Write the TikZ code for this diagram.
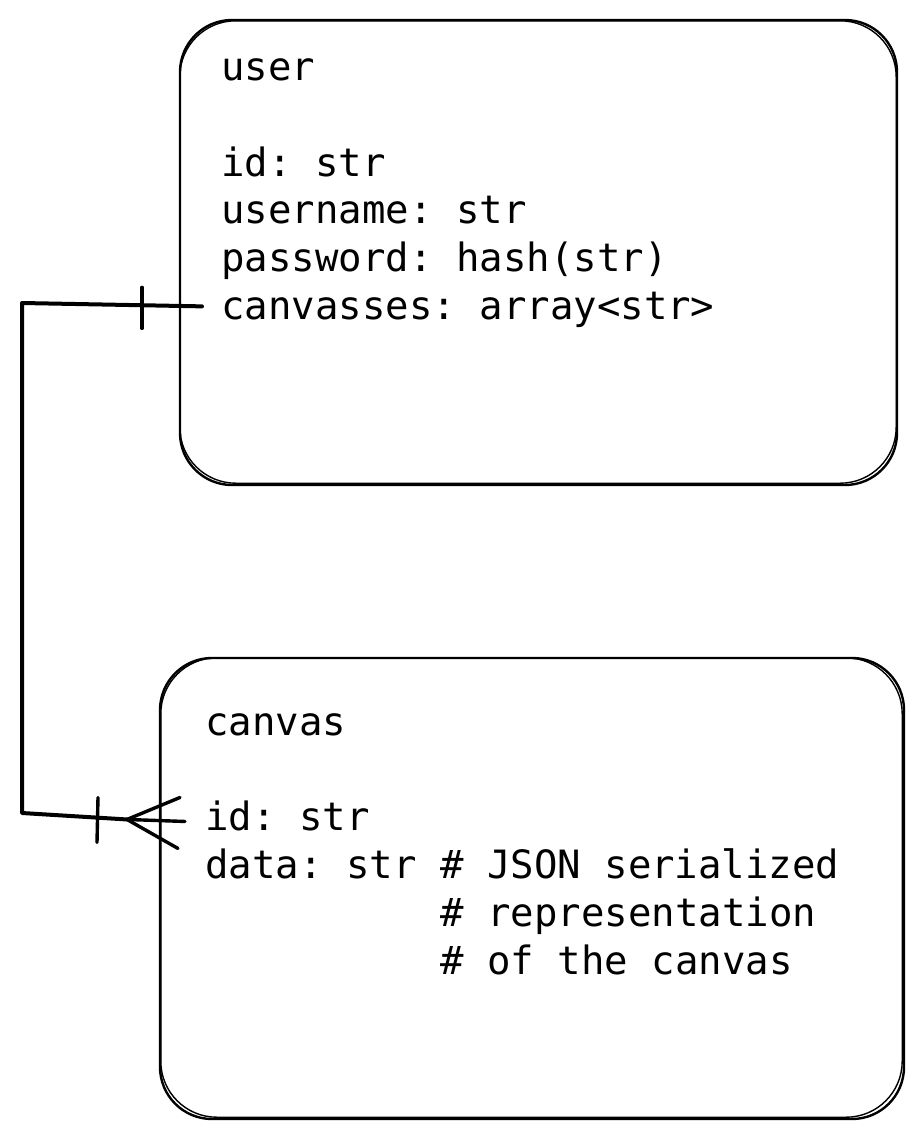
\documentclass[tikz,border=0pt]{standalone}
\usepackage{fontspec}
\setmonofont{DejaVu Sans Mono}
\usetikzlibrary{calc,fit}
\tikzset{
  tablebox/.style={draw, line width=1.2pt, rounded corners=26pt, inner sep=0pt},
  sketch/.style={line width=0.7pt, rounded corners=28pt},
  field/.style={anchor=base west, inner sep=0pt, font=\ttfamily\fontsize{19.5}{23.4}\selectfont},
  link/.style={line width=2pt, line cap=round, line join=round},
  crowtick/.style={line width=1.7pt, line cap=round}
}
\begin{document}
\begin{tikzpicture}[x=0.5pt,y=-0.5pt]
    \useasboundingbox (0,0) rectangle (923,1140);
    % the two tables
    \node[tablebox, fit={(180,20) (897,485)}] (user) {};
    \node[tablebox, fit={(160,658) (904,1119)}] (canvas) {};
    \draw[sketch] ($(user.north west)+(1,2)$) rectangle ($(user.south east)+(-2,-3)$);
    \draw[sketch] ($(canvas.north west)+(2,1)$) rectangle ($(canvas.south east)+(-3,-3)$);

    % fields --- access them as uname, uid, ... and cname, cid, ...
    \foreach \nm/\txt/\y in {uname/user/80, uid/{id: str}/176, uuser/{username: str}/223,
        upass/{password: hash(str)}/271, ucanv/{canvasses: array<str>}/319}
    \node[field] (\nm) at (221,\y) {\txt};
    \foreach \nm/\txt/\y in {cname/canvas/735, cid/{id: str}/830, cdata/{data: str \# JSON serialized}/878}
    \node[field] (\nm) at (205,\y) {\txt};
    \node[field] (crep) at (440,926) {\# representation};
    \node[field] (cof) at (440,974) {\# of the canvas};

    % one user -- many canvases
    \coordinate (ubend) at (22,303);
    \coordinate (cbend) at (22,813);
    \coordinate (cfoot) at ($(cid.west)+(-78,4)$);
    \draw[link] ($(ucanv.west)+(-19,-3)$) -- (ubend) -- (cbend) -- (cfoot);
    \draw[crowtick] ($(ucanv.west)+(-79,-22)$) -- ($(ucanv.west)+(-79,19)$);
    \draw[crowtick] ($(cid.west)+(-107,-18)$) -- ($(cid.west)+(-108,27)$);
    \foreach \dx/\dy in {-25/-18, -20/6, -27/33}
    \draw[crowtick] (cfoot) -- ($(cid.west)+(\dx,\dy)$);
\end{tikzpicture}
\end{document}
